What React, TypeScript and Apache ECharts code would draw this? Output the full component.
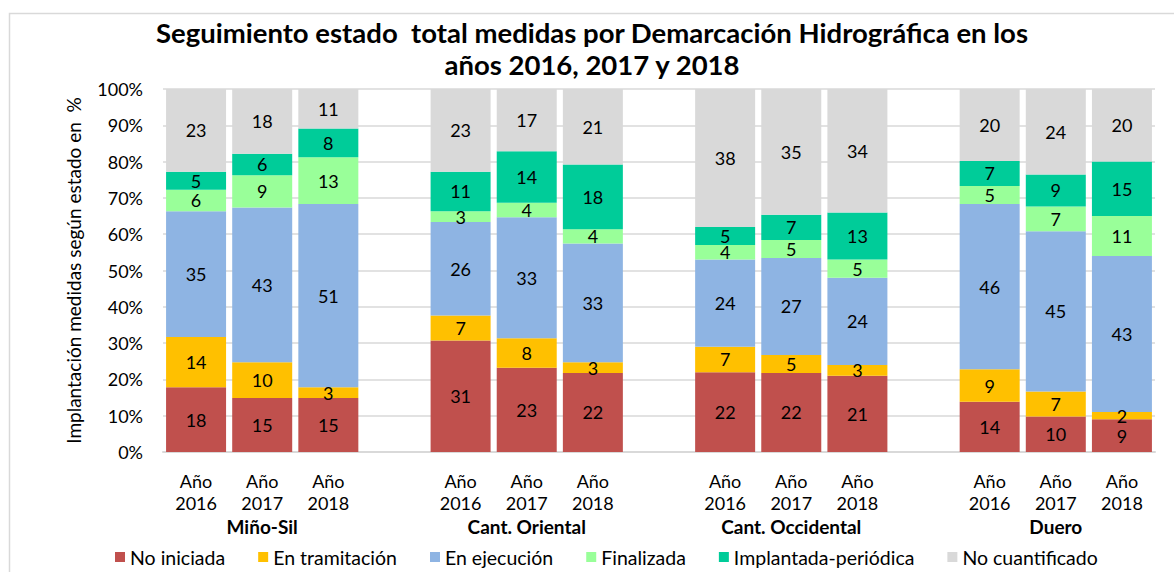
import React, { useEffect, useRef } from "react";
import * as echarts from "echarts";

const groups = ["Miño-Sil", "Cant. Oriental", "Cant. Occidental", "Duero"];
const years = ["Año\n2016", "Año\n2017", "Año\n2018"];
const seriesNames = [
  "No iniciada",
  "En tramitación",
  "En ejecución",
  "Finalizada",
  "Implantada-periódica",
  "No cuantificado",
];
const colors = ["#C0504D", "#FFC000", "#8EB4E3", "#99FF99", "#00CC99", "#D9D9D9"];

const noIniciada = [18, 15, 15, 31, 23, 22, 22, 22, 21, 14, 10, 9];
const enTramitacion = [14, 10, 3, 7, 8, 3, 7, 5, 3, 9, 7, 2];
const enEjecucion = [35, 43, 51, 26, 33, 33, 24, 27, 24, 46, 45, 43];
const finalizada = [6, 9, 13, 3, 4, 4, 4, 5, 5, 5, 7, 11];
const implantada = [5, 6, 8, 11, 14, 18, 5, 7, 13, 7, 9, 15];
const noCuantificado = [23, 18, 11, 23, 17, 21, 38, 35, 34, 20, 24, 20];

const allSeries = [noIniciada, enTramitacion, enEjecucion, finalizada, implantada, noCuantificado];

const FONT = "Lato";

export default function App() {
  const ref = useRef<HTMLDivElement>(null);

  useEffect(() => {
    if (!ref.current) return;
    const chart = echarts.init(ref.current, null, { renderer: "svg" });

    // Build category slots: 3 bars per group, one empty slot between groups
    const categories: string[] = [];
    const groupLabels: string[] = [];
    const slotIndex: number[] = [];
    groups.forEach((g, gi) => {
      years.forEach((y, yi) => {
        slotIndex.push(categories.length);
        categories.push(y);
        groupLabels.push(yi === 1 ? g : "");
      });
      if (gi < groups.length - 1) {
        categories.push("");
        groupLabels.push("");
      }
    });

    const totals = noIniciada.map((_, i) => allSeries.reduce((s, arr) => s + arr[i], 0));

    const series = allSeries.map((arr, si) => {
      const data: any[] = categories.map(() => null);
      arr.forEach((v, i) => {
        data[slotIndex[i]] = { value: (v / totals[i]) * 100, raw: v };
      });
      return {
        name: seriesNames[si],
        type: "bar",
        stack: "total",
        barWidth: 60,
        itemStyle: { color: colors[si] },
        label: {
          show: true,
          position: "inside",
          color: "#000",
          fontFamily: FONT,
          fontSize: 18,
          lineHeight: 14,
          formatter: (p: any) => (p.data && p.data.raw != null ? String(p.data.raw) : ""),
        },
        data,
      };
    });

    chart.setOption({
      animation: false,
      textStyle: { fontFamily: FONT },
      title: {
        text: "Seguimiento estado  total medidas por Demarcación Hidrográfica en los\naños 2016, 2017 y 2018",
        left: 587,
        textAlign: "center",
        top: 11,
        textStyle: {
          fontFamily: FONT,
          fontWeight: "bold",
          fontSize: 27.5,
          lineHeight: 32,
          color: "#000",
        },
      },
      graphic: [
        {
          type: "rect",
          left: 7,
          top: 11,
          shape: { width: 1200, height: 600 },
          style: { fill: "none", stroke: "#D9D9D9", lineWidth: 1.5 },
          silent: true,
        },
      ],
      legend: {
        bottom: 0,
        left: 110,
        itemWidth: 10,
        itemHeight: 10,
        itemGap: 33,
        icon: "rect",
        textStyle: { fontFamily: FONT, fontSize: 19.5, color: "#000" },
        data: seriesNames,
      },
      grid: { left: 163, right: 19, top: 89, bottom: 120 },
      xAxis: [
        {
          type: "category",
          data: categories,
          axisLine: { lineStyle: { color: "#D9D9D9", width: 2 } },
          axisTick: { show: false },
          axisLabel: {
            interval: 0,
            margin: 18,
            fontFamily: FONT,
            fontSize: 18,
            lineHeight: 22,
            color: "#000",
          },
        },
        {
          type: "category",
          data: groupLabels,
          position: "bottom",
          axisLine: { show: false },
          axisTick: { show: false },
          axisLabel: {
            interval: 0,
            margin: 65,
            fontFamily: FONT,
            fontSize: 19,
            lineHeight: 18,
            fontWeight: "bold",
            color: "#000",
          },
        },
      ],
      yAxis: {
        type: "value",
        min: 0,
        max: 100,
        interval: 10,
        name: "Implantación medidas según estado en  %",
        nameLocation: "middle",
        nameRotate: 90,
        nameGap: 80,
        nameTextStyle: { fontFamily: FONT, fontSize: 19, color: "#000" },
        axisLabel: {
          formatter: "{value}%",
          fontFamily: FONT,
          fontSize: 18,
          color: "#000",
          margin: 20,
        },
        splitLine: { lineStyle: { color: "#D9D9D9", width: 1.5 } },
      },
      series,
    });

    return () => chart.dispose();
  }, []);

  return (
    <div
      ref={ref}
      style={{ position: "absolute", left: 0, top: 0, width: 1174, height: 572, background: "#fff" }}
    />
  );
}
